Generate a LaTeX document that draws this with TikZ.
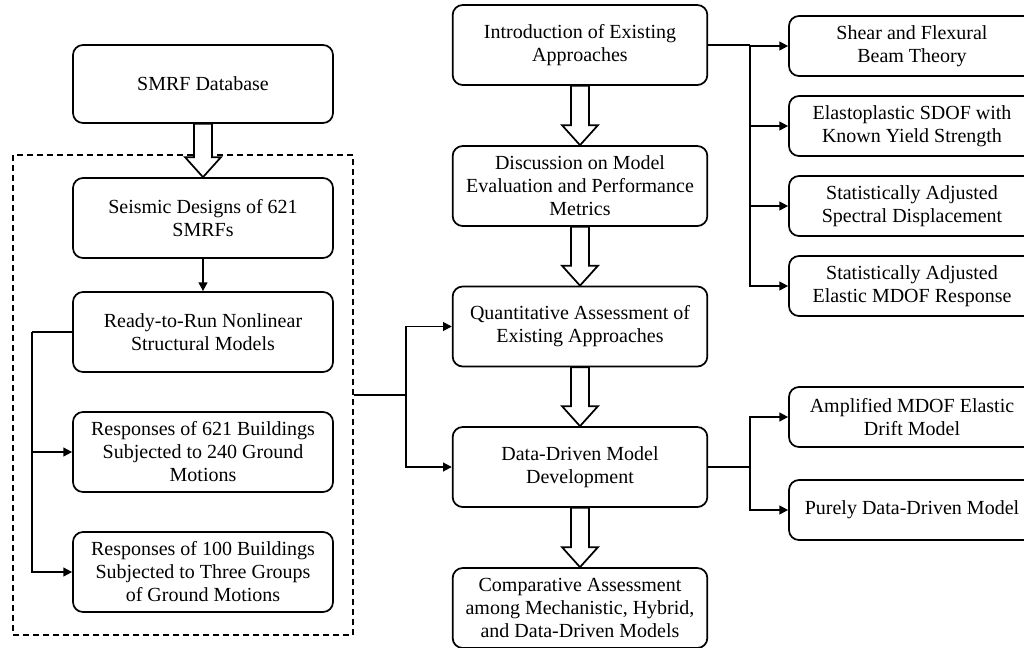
\documentclass[tikz,border=0pt]{standalone}
\usepackage{fontspec}
\setmainfont{Liberation Serif}
\usetikzlibrary{arrows.meta, calc}

\begin{document}
\begin{tikzpicture}[x=0.75pt, y=-0.75pt, >={Triangle[length=6.5pt, width=6.5pt]},
    stage/.style={draw, rounded corners=7.5pt, line width=1.3pt, align=center, inner sep=2pt,
      font=\fontsize{15}{17.25}\selectfont, minimum height=60pt},
    leftbox/.style={stage, minimum width=195pt},
    midbox/.style={stage, minimum width=191pt},
    sidebox/.style={stage, minimum width=184.5pt, minimum height=45pt},
    link/.style={line width=1.3pt},
    fat/.style={draw, fill=white, line width=1.3pt, line join=miter}]
    \clip (0,0) rectangle (1024,647);

    % Dashed frame round the data part
    \node[draw, dash pattern=on 4.5pt off 3pt, line width=1pt, minimum width=255pt,
      minimum height=360pt, inner sep=0pt] (grp) at (183,395) {};

    % Left column
    \node[leftbox, minimum height=58.5pt] (db) at (203,84) {SMRF Database};
    \node[leftbox] (design) at (203,218) {Seismic Designs of 621\\SMRFs};
    \node[leftbox] (ready) at (203,332) {Ready-to-Run Nonlinear\\Structural Models};
    \node[leftbox] (resp1) at (203,452) {Responses of 621 Buildings\\Subjected to 240 Ground\\Motions};
    \node[leftbox] (resp2) at (203,572) {Responses of 100 Buildings\\Subjected to Three Groups\\of Ground Motions};

    % Middle column
    \node[midbox] (intro) at (580,45) {Introduction of Existing\\Approaches};
    \node[midbox] (disc) at (580,186) {Discussion on Model\\Evaluation and Performance\\Metrics};
    \node[midbox] (quant) at (580,326.5) {Quantitative Assessment of\\Existing Approaches};
    \node[midbox] (dd) at (580,467) {Data-Driven Model\\Development};
    \node[midbox] (comp) at (580,608) {Comparative Assessment\\among Mechanistic, Hybrid,\\and Data-Driven Models};

    % Right column
    \node[sidebox] (beam) at (912,46) {Shear and Flexural\\Beam Theory};
    \node[sidebox] (sdof) at (912,126) {Elastoplastic SDOF with\\Known Yield Strength};
    \node[sidebox] (spec) at (912,206) {Statistically Adjusted\\Spectral Displacement};
    \node[sidebox] (mdof) at (912,286) {Statistically Adjusted\\Elastic MDOF Response};
    \node[sidebox] (amp) at (912,417) {Amplified MDOF Elastic\\Drift Model};
    \node[sidebox] (pure) at (912,510) {Purely Data-Driven Model};

    % Hollow arrows
    \foreach \a/\b in {db/design, intro/disc, disc/quant, quant/dd, dd/comp}
      \draw[fat] ($(\a.south)+(-9,0)$) -- ($(\b.north)+(-9,-20)$) -- ($(\b.north)+(-18,-20)$)
        -- (\b.north) -- ($(\b.north)+(18,-20)$) -- ($(\b.north)+(9,-20)$) -- ($(\a.south)+(9,0)$) -- cycle;

    % Thin connectors
    \draw[link, ->] (design) -- (ready);
    \draw[link] (ready.west) -- ++(-40,0) coordinate (lj);
    \draw[link, ->] (lj) |- (resp1.west);
    \draw[link, ->] (lj) |- (resp2.west);

    \draw[link] (grp.east) -- ++(52,0) coordinate (mj);
    \draw[link, ->] (mj) |- (quant.west);
    \draw[link, ->] (mj) |- (dd.west);

    \draw[link] (intro.east) -- ++(42,0) coordinate (rj);
    \foreach \n in {beam, sdof, spec, mdof}
      \draw[link, ->] (rj) |- (\n.west);

    \draw[link] (dd.east) -- ++(42,0) coordinate (dj);
    \draw[link, ->] (dj) |- (amp.west);
    \draw[link, ->] (dj) |- (pure.west);
  \end{tikzpicture}
\end{document}
